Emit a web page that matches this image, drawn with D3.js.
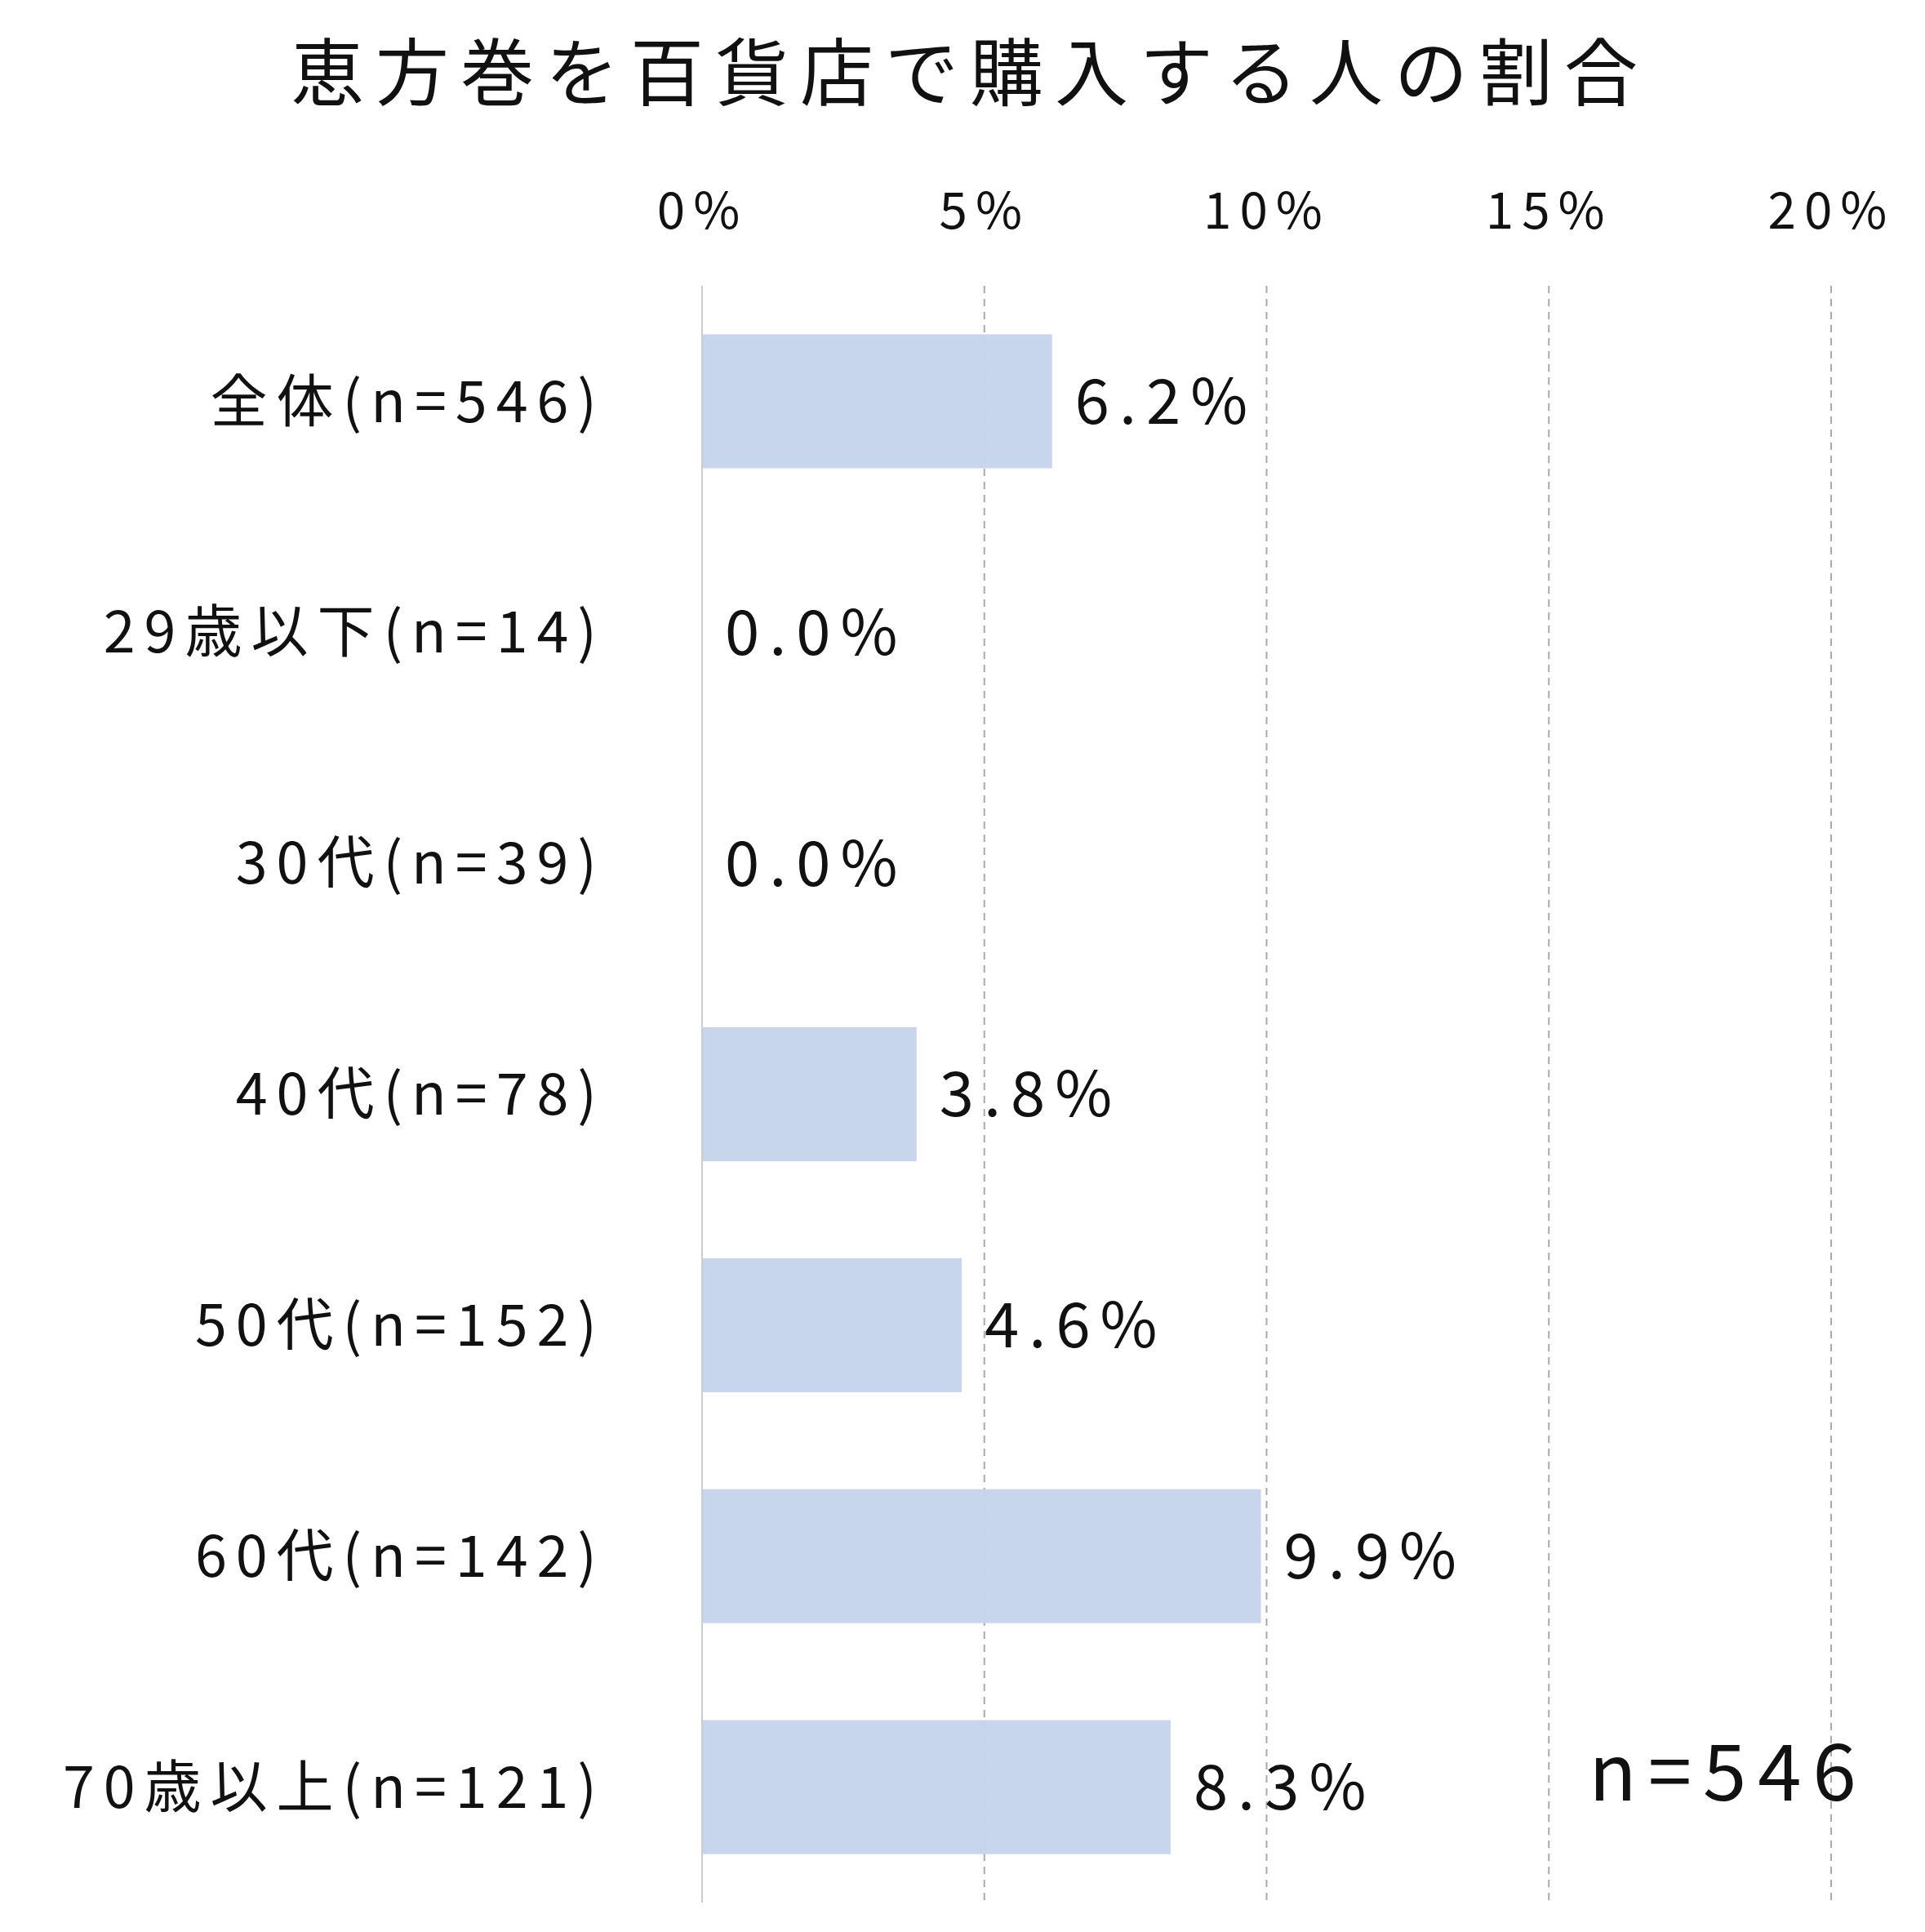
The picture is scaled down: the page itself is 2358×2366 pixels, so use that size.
<!DOCTYPE html>
<html><head><meta charset="utf-8">
<script src="https://cdn.jsdelivr.net/npm/d3@7"></script>
<style>body{margin:0;background:#fff}text{font-family:"Noto Sans CJK JP","Noto Sans",sans-serif;fill:#111}</style>
</head><body><svg id="c" width="2358" height="2366"></svg>
<script>
const categories=["全体(n=546)","29歳以下(n=14)","30代(n=39)","40代(n=78)","50代(n=152)","60代(n=142)","70歳以上(n=121)"];
const values=[6.2,0.0,0.0,3.8,4.6,9.9,8.3];
const tickValues=[0,5,10,15,20];
const title="恵方巻を百貨店で購入する人の割合";
const note="n=546";

const svg=d3.select("#c");
const x=d3.scaleLinear().domain([0,20]).range([860,2243]);
const y=d3.scaleBand().domain(categories).range([350,2330]).paddingInner(0.42).paddingOuter(0.21);

svg.append("text").attr("x",1188).attr("y",122).attr("text-anchor","middle").attr("font-size",90).attr("letter-spacing",14).text(title);

const ax=d3.axisTop(x).tickValues(tickValues).tickFormat(d=>d+"%").tickSize(0).tickPadding(0);
const g=svg.append("g").attr("transform","translate(0,280)").call(ax);
g.select(".domain").remove();
g.selectAll("text").attr("font-size",62).attr("letter-spacing",10).attr("fill","#111");

svg.selectAll(".grid").data(tickValues.slice(1)).join("line")
 .attr("x1",d=>x(d)).attr("x2",d=>x(d)).attr("y1",350).attr("y2",2330)
 .attr("stroke","#aaa").attr("stroke-width",2).attr("stroke-dasharray","9,7");

svg.selectAll(".bar").data(values).join("rect")
 .attr("x",x(0)).attr("y",(d,i)=>y(categories[i])).attr("width",d=>x(d)-x(0)).attr("height",y.bandwidth())
 .attr("fill","#c5d4ec").attr("fill-opacity",0.95);
svg.append("line").attr("x1",x(0)).attr("x2",x(0)).attr("y1",350).attr("y2",2330).attr("stroke","#ccc").attr("stroke-width",2);

svg.selectAll(".vl").data(values).join("text")
 .attr("x",d=>x(d)+28).attr("y",(d,i)=>y(categories[i])+y.bandwidth()/2).attr("dy","0.36em")
 .attr("font-size",76).attr("letter-spacing",12).text(d=>d.toFixed(1)+"%");

svg.selectAll(".cl").data(categories).join("text")
 .attr("x",742).attr("y",d=>y(d)+y.bandwidth()/2).attr("dy","0.36em").attr("text-anchor","end")
 .attr("font-size",70).attr("letter-spacing",11).text(d=>d);

svg.append("text").attr("x",2117).attr("y",2170).attr("text-anchor","middle").attr("dy","0.36em").attr("font-size",96).attr("letter-spacing",14).text(note);
</script></body></html>
